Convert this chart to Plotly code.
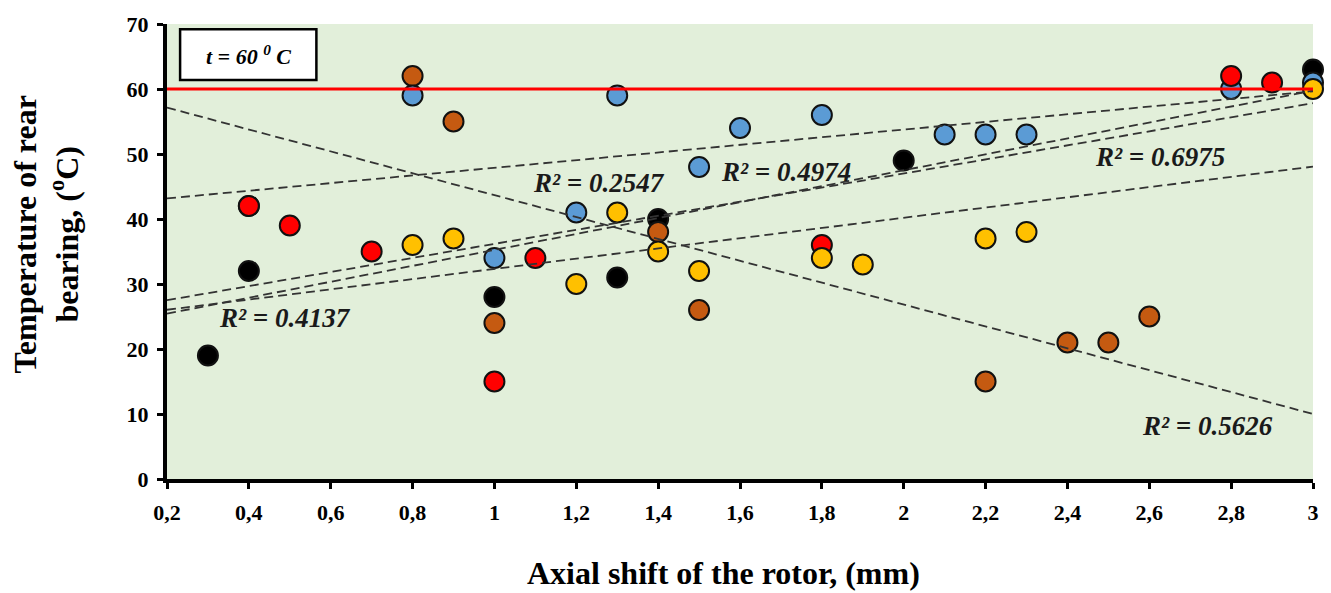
import numpy as np
import plotly.graph_objects as go

# ---------------- data ----------------
x_tick_vals = [0.2, 0.4, 0.6, 0.8, 1.0, 1.2, 1.4, 1.6, 1.8, 2.0, 2.2, 2.4, 2.6, 2.8, 3.0]
x_tick_text = ["0,2", "0,4", "0,6", "0,8", "1", "1,2", "1,4", "1,6", "1,8", "2",
               "2,2", "2,4", "2,6", "2,8", "3"]
y_tick_vals = [0, 10, 20, 30, 40, 50, 60, 70]

# black series (one point at 0.4 hidden under the red marker, inferred from its trend line)
black_x = [0.3, 0.4, 0.4, 1.0, 1.3, 1.4, 2.0, 3.0]
black_y = [19, 32, 42, 28, 31, 40, 49, 63]

red_x = [0.4, 0.5, 0.7, 1.0, 1.1, 1.8, 2.8, 2.9]
red_y = [42, 39, 35, 15, 34, 36, 62, 61]

blue_x = [0.8, 1.0, 1.2, 1.3, 1.5, 1.6, 1.8, 2.1, 2.2, 2.3, 2.8, 3.0]
blue_y = [59, 34, 41, 59, 48, 54, 56, 53, 53, 53, 60, 61]

brown_x = [0.8, 0.9, 1.0, 1.4, 1.5, 2.2, 2.4, 2.5, 2.6]
brown_y = [62, 55, 24, 38, 26, 15, 21, 21, 25]

yellow_x = [0.8, 0.9, 1.2, 1.3, 1.4, 1.5, 1.8, 1.9, 2.2, 2.3, 3.0]
yellow_y = [36, 37, 30, 41, 35, 32, 34, 33, 37, 38, 60]

threshold_temp = 60
x_range = [0.2, 3.0]
y_range = [0, 70]

r2_labels = ["R² = 0.4137", "R² = 0.2547", "R² = 0.4974", "R² = 0.6975", "R² = 0.5626"]

# ---------------- figure ----------------
FONT = "Liberation Serif"
fig = go.Figure()

series = [
    (black_x, black_y, "#000000"),
    (brown_x, brown_y, "#C55A11"),
    (blue_x, blue_y, "#5B9BD5"),
    (red_x, red_y, "#FF0000"),
    (yellow_x, yellow_y, "#FFC000"),
]

for xs, ys, col in series:
    fig.add_trace(go.Scatter(
        x=xs, y=ys, mode="markers", cliponaxis=False, showlegend=False,
        marker=dict(size=20, color=col, line=dict(color="#111111", width=2)),
    ))

# linear trend lines (least squares), extended across the axis range
xt = np.array(x_range)
for xs, ys, col in series:
    k, b = np.polyfit(xs, ys, 1)
    fig.add_trace(go.Scatter(
        x=xt, y=k * xt + b, mode="lines", showlegend=False,
        line=dict(color="#333333", width=1.8, dash="9px,5px"),
    ))

# threshold line
fig.add_trace(go.Scatter(
    x=xt, y=[threshold_temp, threshold_temp], mode="lines", showlegend=False,
    line=dict(color="#FF0000", width=3),
))

# box with t = 60 C
fig.add_shape(type="rect", xref="x", yref="y", x0=0.232, x1=0.565, y0=61.4, y1=69.2,
              fillcolor="white", line=dict(color="black", width=2.5), layer="above")
annotations = [
    dict(x=0.3985, y=65.3, xref="x", yref="y", showarrow=False,
         text="<b><i>t = 60 <sup>0</sup> C</i></b>",
         font=dict(family=FONT, size=22, color="black")),
]

r2_pos = [(0.4875, 24.7), (1.255, 45.5), (1.713, 47.3), (2.627, 49.6), (2.741, 8.2)]
for (px, py), lab in zip(r2_pos, r2_labels):
    annotations.append(dict(x=px, y=py, xref="x", yref="y", showarrow=False,
                            text=f"<b><i>{lab}</i></b>",
                            font=dict(family=FONT, size=27, color="#1a1a1a")))

# axis titles
annotations.append(dict(x=-0.1053, y=0.538, xref="paper", yref="paper", showarrow=False,
                        textangle=-90, xanchor="center", yanchor="middle",
                        text="<b>Temperature of rear<br>bearing, (<sup>o</sup>C)</b>",
                        font=dict(family=FONT, size=32, color="black")))
annotations.append(dict(x=0.4856, y=-0.2057, xref="paper", yref="paper", showarrow=False,
                        xanchor="center", yanchor="middle",
                        text="<b>Axial shift of the rotor, (mm)</b>",
                        font=dict(family=FONT, size=32, color="black")))

axis_common = dict(
    showline=True, linewidth=4, linecolor="black", ticks="outside", ticklen=6,
    tickwidth=3, tickcolor="black", showgrid=False, zeroline=False,
    tickfont=dict(family=FONT, size=22, color="black", weight="bold"),
)

fig.update_layout(
    width=1331, height=593,
    margin=dict(l=167, r=15, t=22, b=114),
    paper_bgcolor="white", plot_bgcolor="#E2EFDA",
    xaxis=dict(range=x_range, tickvals=x_tick_vals, ticktext=x_tick_text,
               ticklabelstandoff=5, **axis_common),
    yaxis=dict(range=y_range, tickvals=y_tick_vals, ticklabelstandoff=4, **axis_common),
    annotations=annotations,
    showlegend=False,
)

fig.write_html("out.html")
